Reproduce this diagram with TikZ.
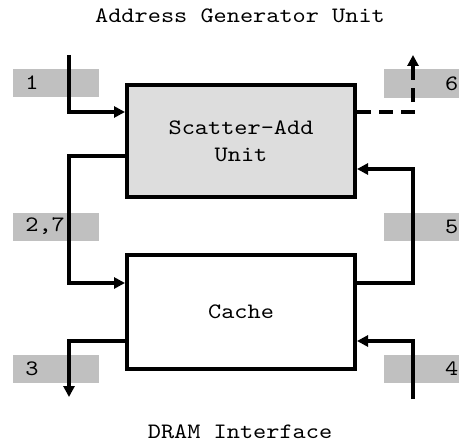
\documentclass[tikz,border=0pt]{standalone}
\usepackage{fontspec}
\setmonofont{Latin Modern Mono}[FakeStretch=1.14]
\usetikzlibrary{arrows.meta}
\definecolor{tagfill}{RGB}{192,192,192}
\definecolor{unitfill}{RGB}{221,221,221}
\begin{document}
\begin{tikzpicture}[x=0.5pt,y=-0.5pt,
  font=\ttfamily\fontsize{11}{13.5}\selectfont,
  unitbox/.style={draw, line width=2pt, inner sep=0pt, minimum width=114pt, align=center},
  tagbox/.style={fill=tagfill, minimum height=14pt, inner xsep=6pt, inner ysep=0pt, text width=31pt, anchor=west},
  wire/.style={line width=2pt},
  feed/.style={wire, -{Triangle[length=5.5pt,width=5.5pt]}},
]
\useasboundingbox (0,0) rectangle (459,444);

% interface captions
\node (agu) at (240,16) {Address Generator Unit};
\node (dram) at (240,432) {DRAM Interface};

% port tags
\node[tagbox, align=left]  (t1)  at (13,83)    {1};
\node[tagbox, align=left]  (t27) at (13,226.5) {2,7};
\node[tagbox, align=left]  (t3)  at (13,369)   {3};
\node[tagbox, align=right] (t6)  at (384,83.5) {6};
\node[tagbox, align=right] (t5)  at (384,226.5){5};
\node[tagbox, align=right] (t4)  at (384,369)  {4};

% units
\node[unitbox, fill=unitfill, minimum height=56pt] (sau) at (241,141) {Scatter-Add\\Unit};
\node[unitbox, minimum height=57pt] (cache) at (241,312) {Cache};

% free ends of the connectors
\coordinate (in1)  at (69,55);
\coordinate (out3) at (69,397);
\coordinate (in4)  at (413,399);
\coordinate (out6) at (413,55);

% connectors
\draw[feed] (in1) |- (sau.west |- 0,112);
\draw[feed] (sau.west |- 0,156) -- (69,156) -- (69,283) -- (cache.west |- 0,283);
\draw[feed] (cache.west |- 0,341) -| (out3);
\draw[feed] (in4) |- (cache.east |- 0,341);
\draw[feed] (cache.east |- 0,283) -| (413,169) -- (sau.east |- 0,169);
\draw[feed, dash pattern=on 7pt off 4pt] (sau.east |- 0,112) -| (out6);
\end{tikzpicture}
\end{document}
